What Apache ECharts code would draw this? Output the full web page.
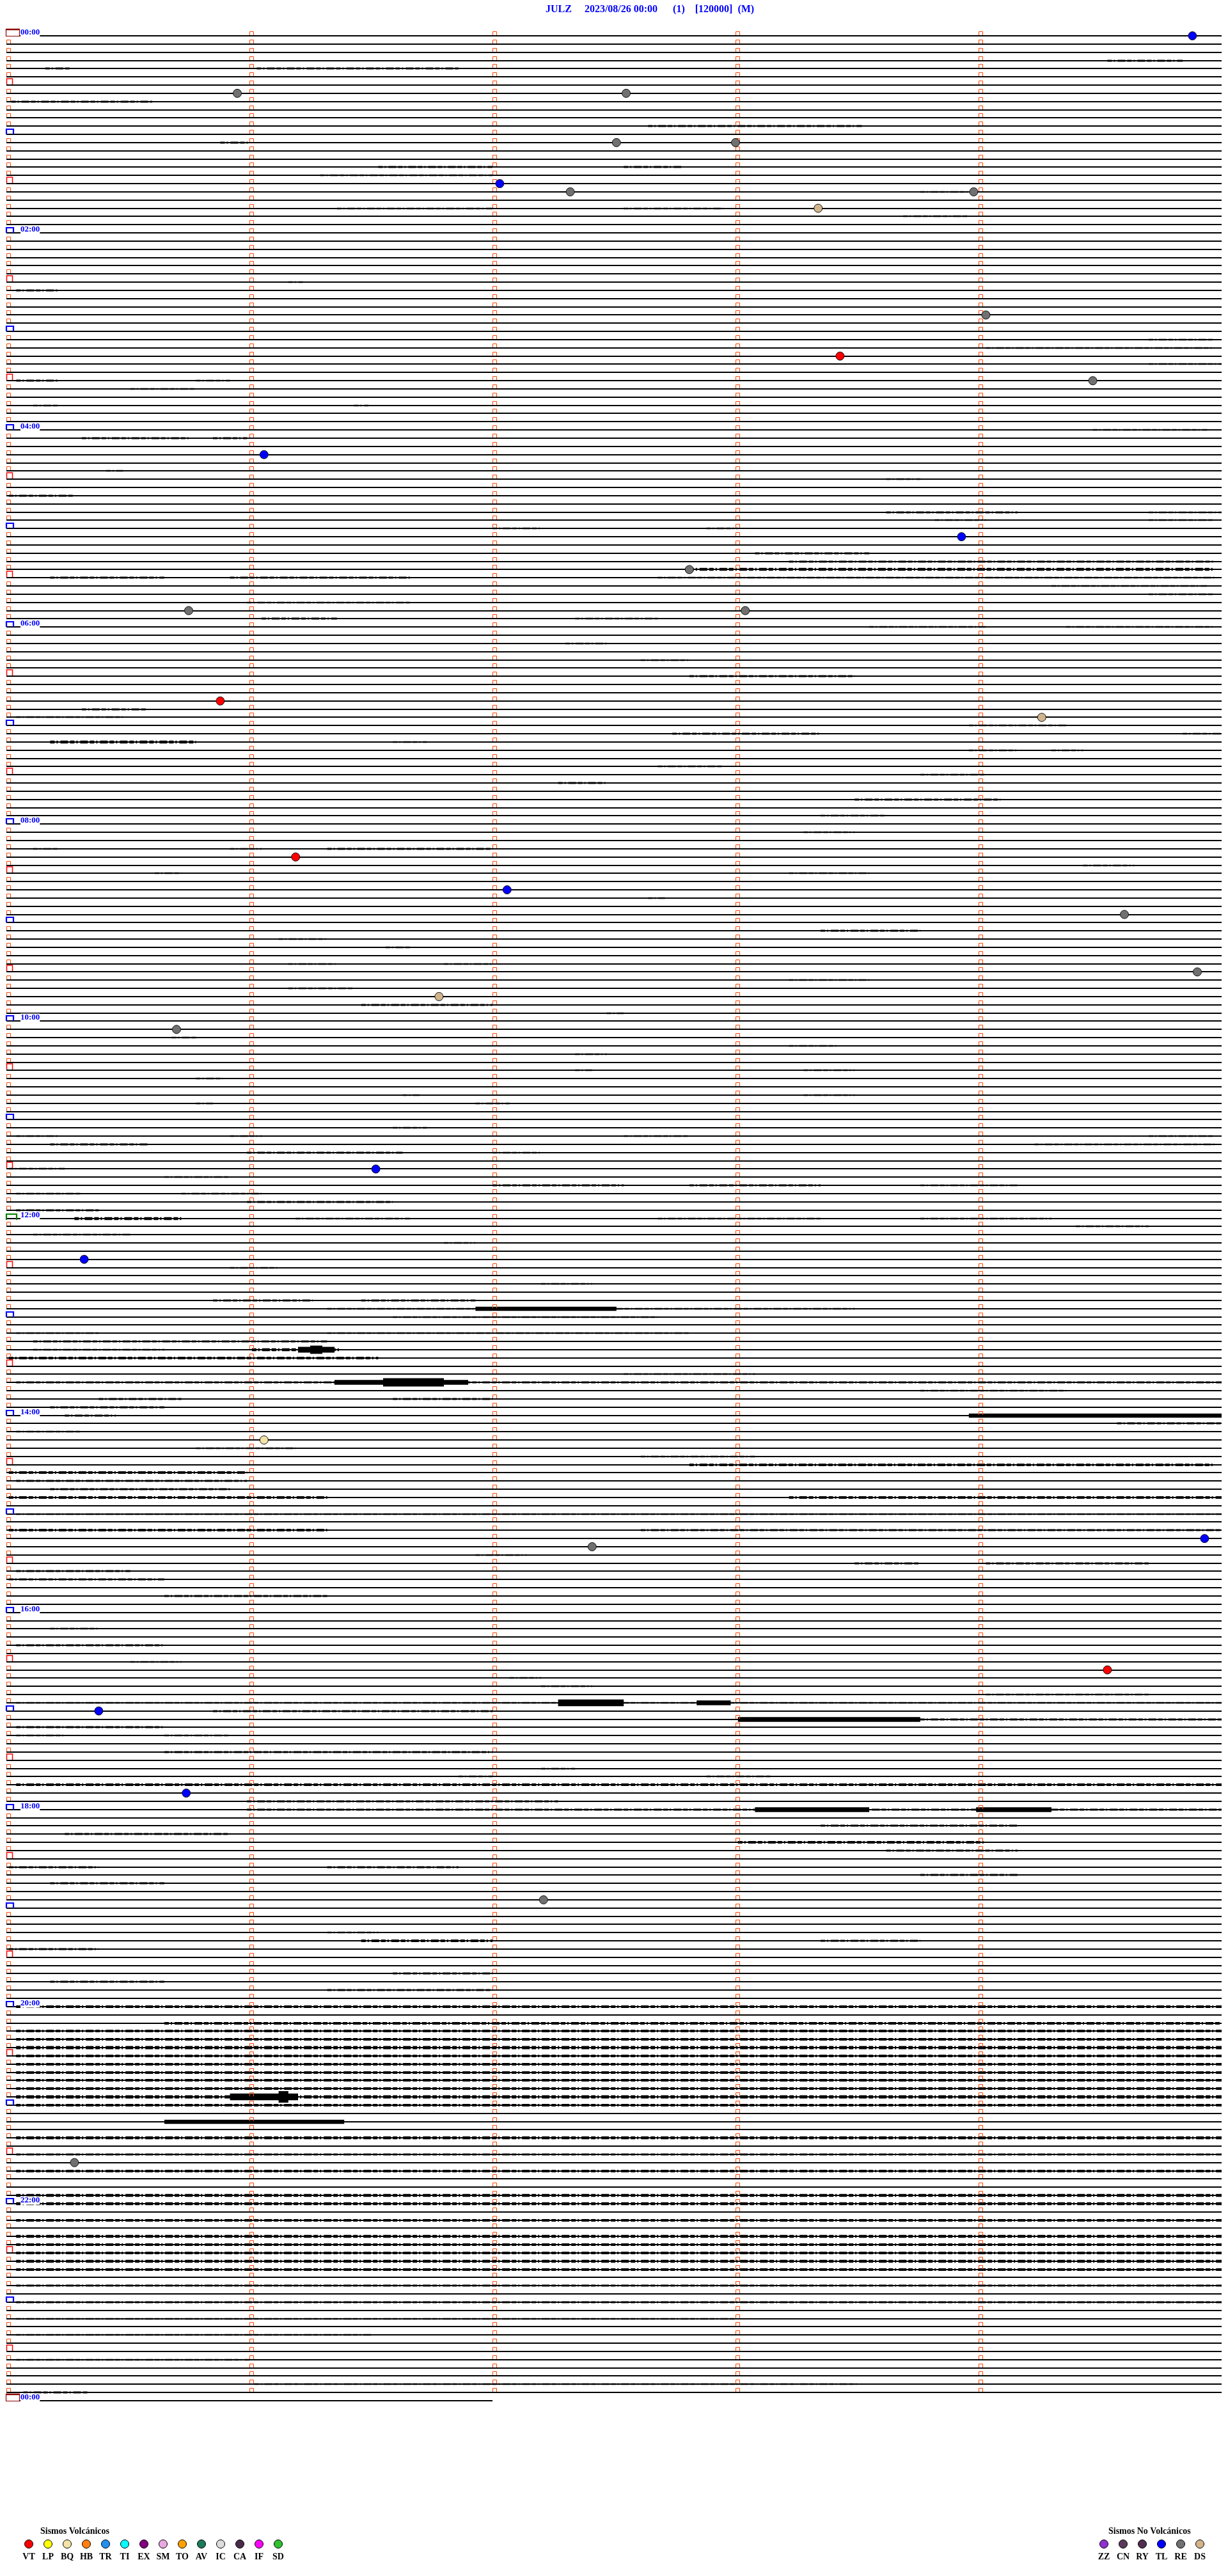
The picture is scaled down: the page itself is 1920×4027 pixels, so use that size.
<!DOCTYPE html>
<html><head><meta charset="utf-8">
<script src="https://cdn.jsdelivr.net/npm/echarts@6.0.0/dist/echarts.min.js"></script>
<style>html,body{margin:0;padding:0;background:#fff}#c{width:1920px;height:4027px}</style>
</head><body><div id="c"></div>
<script>
// ---------- DATA ----------
const titleText = 'JULZ     2023/08/26 00:00      (1)    [120000]  (M)';
const hours = 24;
const linesPerHour = 12;
const minutesPerLine = 5;
const minuteTicks = [0, 1, 2, 3, 4];
const hourLabels = ['00:00','02:00','04:00','06:00','08:00','10:00','12:00','14:00','16:00','18:00','20:00','22:00','00:00'];
const lastLineEnd = 2; // final (next-day 00:00) line only runs 2 minutes

// events: [minute within line, line index]
const eventsRE = [[0.95,7],[2.55,7],[2.51,13],[3.0,13],[2.32,19],[3.98,19],[4.03,34],[4.47,42],[2.81,65],[0.75,70],[3.04,70],[4.6,107],[4.9,114],[0.70,121],[2.41,184],[2.21,227],[0.28,259]];
const eventsTL = [[4.88,0],[2.03,18],[1.06,51],[3.93,61],[2.06,104],[1.52,138],[0.32,149],[4.93,183],[0.38,204],[0.74,214]];
const eventsVT = [[3.43,39],[0.88,81],[1.19,100],[4.53,199]];
const eventsDS = [[3.34,21],[4.26,83],[1.78,117]];
const eventsBQ = [[1.06,171]];

const volcanicTypes  = ['VT','LP','BQ','HB','TR','TI','EX','SM','TO','AV','IC','CA','IF','SD'];
const volcanicColors = ['#ff0000','#ffff00','#f3e3a6','#ff8010','#2090f0','#00ffff','#800080','#e8a8e0','#ffa000','#1a7a5a','#dcdcdc','#4a2a4a','#ff00ff','#30c030'];
const nonVolcanicTypes  = ['ZZ','CN','RY','TL','RE','DS'];
const nonVolcanicColors = ['#9030d0','#5a3a5a','#502e50','#0000ff','#707070','#d2b48c'];

// trace noise segments: [line, start minute, end minute, amplitude (fraction of line spacing)]
const noise = [
[3,4.53,4.84,.25],[4,0.16,0.26,.25],[4,1.03,1.86,.25],[8,0.02,0.6,.25],[11,2.64,3.52,.25],[13,0.88,1.0,.25],
[16,1.53,2.0,.25],[16,2.54,2.78,.25],[17,1.29,2.0,.2],[19,3.76,3.96,.2],[21,1.36,2.0,.2],[21,2.54,2.95,.2],
[22,3.69,3.96,.2],[30,1.16,1.22,.2],[31,0.04,0.21,.25],[37,4.70,4.97,.2],[38,4.03,4.97,.2],[40,4.70,5.0,.2],
[42,0.04,0.21,.25],[42,0.78,0.92,.2],[43,0.51,0.78,.2],[45,0.11,0.21,.2],[45,1.43,1.49,.2],[48,4.47,4.94,.2],
[49,0.31,0.75,.25],[49,0.85,0.99,.25],[53,0.41,0.48,.2],[54,3.62,3.76,.2],[56,0.01,0.28,.25],
[58,3.62,4.16,.25],[58,4.70,5.0,.2],[59,3.82,4.03,.2],[59,4.70,4.97,.2],[60,2.0,2.20,.2],[60,2.88,3.01,.2],
[63,3.08,3.55,.25],[64,3.22,4.97,.25],[65,2.81,4.97,.35],[66,0.18,0.65,.25],[66,0.92,1.66,.25],[66,2.68,4.97,.2],
[67,4.30,4.94,.2],[68,4.70,4.97,.2],[69,0.99,1.66,.2],[71,1.05,1.36,.25],[71,2.34,2.68,.2],
[72,3.55,4.03,.2],[72,4.36,4.97,.2],[74,2.30,2.47,.2],[76,2.61,2.81,.2],[78,2.81,3.49,.25],
[82,0.31,0.58,.25],[83,0.04,0.48,.2],[84,3.96,4.36,.2],[85,2.74,3.35,.25],[85,4.84,5.0,.2],
[86,0.18,0.78,.35],[86,1.59,1.73,.2],[87,3.96,4.16,.2],[87,4.30,4.43,.2],[89,2.68,2.95,.2],[90,3.76,4.03,.2],
[91,2.27,2.47,.25],[93,3.49,4.09,.25],[95,3.35,3.62,.2],[97,3.28,3.49,.2],
[99,0.11,0.21,.2],[99,0.92,1.05,.2],[99,1.32,2.0,.25],[101,4.43,4.64,.2],[102,0.61,0.72,.2],[102,3.22,3.55,.2],
[105,2.64,2.71,.2],[109,3.35,3.76,.25],[110,1.12,1.32,.2],[111,1.56,1.66,.2],[113,1.16,1.36,.2],[113,1.80,2.0,.2],
[115,3.22,3.55,.2],[116,1.16,1.43,.2],[118,1.46,2.0,.25],[119,2.47,2.54,.2],[122,0.68,0.78,.2],[123,3.22,3.42,.2],
[124,2.34,2.47,.2],[126,2.34,2.41,.2],[126,3.28,3.49,.2],[127,0.78,0.89,.2],[129,1.63,1.70,.2],[129,3.28,3.49,.2],
[130,0.78,0.85,.2],[130,1.93,2.07,.2],[133,1.59,1.73,.2],
[134,0.04,0.21,.2],[134,0.92,1.05,.2],[134,2.54,2.81,.2],[134,4.70,4.97,.2],[135,0.18,0.58,.25],[135,4.23,4.97,.2],
[136,0.99,1.63,.25],[136,2.0,2.20,.2],[138,0.01,0.24,.2],[139,0.65,0.92,.2],
[140,2.0,2.54,.25],[140,2.81,3.35,.25],[140,3.76,4.16,.2],[141,0.04,0.31,.2],[141,0.72,1.05,.2],
[142,0.99,1.59,.25],[143,0.04,0.38,.25],[144,0.28,0.72,.35],[144,1.19,1.66,.2],[144,2.68,3.35,.2],[144,3.76,4.30,.2],
[145,4.40,4.70,.2],[146,0.11,0.51,.2],[147,1.80,1.93,.2],[150,0.92,1.12,.2],[152,2.20,2.41,.2],
[154,0.85,1.26,.25],[154,1.46,1.93,.25],[155,1.32,3.49,.2],[155,1.93,2.51,.5],[156,1.59,2.68,.2],
[158,0.04,0.38,.2],[158,1.32,2.81,.2],[159,0.11,1.32,.25],
[160,0.11,0.65,.2],[160,1.01,1.37,.35],[160,1.2,1.35,.7],[160,1.25,1.3,1.0],[161,0.01,1.53,.3],[163,2.54,3.08,.2],
[164,0.04,5.0,.25],[164,1.35,1.9,.6],[164,1.55,1.8,1.0],[165,3.76,4.36,.2],[166,0.38,0.72,.25],[166,1.59,2.0,.25],
[167,0.18,0.65,.25],[168,0.24,0.45,.25],[168,3.96,5.0,.5],[169,4.57,5.0,.25],[170,0.04,0.31,.2],[172,0.78,1.19,.2],
[173,2.61,3.08,.2],[174,2.81,4.97,.3],[175,0.01,0.99,.3],[176,0.04,0.99,.25],[177,0.18,0.92,.25],
[178,0.01,1.32,.3],[178,3.22,5.0,.3],[180,0.04,5.0,.2],[182,0.01,1.32,.3],[182,2.61,5.0,.25],
[185,1.93,2.14,.2],[186,3.49,3.76,.25],[186,4.03,4.70,.25],[187,0.04,0.51,.25],[188,0.01,0.65,.25],[190,0.65,1.32,.25],
[194,0.18,0.38,.2],[196,0.04,0.65,.25],[198,0.51,0.72,.2],[200,2.07,2.20,.2],[201,2.20,2.41,.2],[202,4.03,4.70,.2],
[203,0.04,5.0,.2],[203,2.27,2.54,.8],[203,2.84,2.98,.6],[204,0.85,2.0,.25],[205,3.01,3.76,.6],[205,3.76,5.0,.25],
[206,0.04,0.65,.25],[207,0.04,0.24,.2],[207,0.65,0.92,.2],[209,0.65,2.0,.25],[211,2.20,2.34,.2],
[212,1.86,2.0,.2],[212,2.88,3.15,.2],[213,0.04,5.0,.3],[215,0.99,2.27,.25],
[216,0.99,5.0,.25],[216,3.08,3.55,.6],[216,3.99,4.3,.6],[218,3.35,4.16,.25],[219,0.24,0.92,.25],[220,3.01,4.03,.3],
[221,3.62,4.16,.25],[223,0.01,0.38,.25],[223,1.32,1.86,.25],[224,3.76,4.16,.25],[225,0.18,0.65,.25],
[231,1.32,1.53,.2],[232,1.46,2.0,.3],[232,3.35,3.76,.25],[233,0.01,0.38,.25],[236,1.59,2.0,.25],[237,0.18,0.65,.25],
[238,1.32,2.0,.25],[240,0.04,5.0,.3],[242,0.65,5.0,.3],[243,0.04,5.0,.3],[244,0.04,5.0,.3],[245,0.04,5.0,.4],
[246,0.04,5.0,.3],[247,0.04,5.0,.3],[248,0.04,5.0,.3],[249,0.04,5.0,.3],[250,0.04,5.0,.3],
[251,0.04,5.0,.4],[251,0.92,1.2,.8],[251,1.12,1.16,1.4],[252,0.04,5.0,.3],[254,0.65,1.39,.5],[256,0.04,5.0,.35],
[258,0.04,5.0,.25],[260,0.04,5.0,.3],[263,0.04,5.0,.35],[264,0.04,5.0,.35],[266,0.04,5.0,.3],[268,0.04,5.0,.35],
[269,0.04,5.0,.3],[270,0.04,5.0,.3],[271,0.04,5.0,.35],[272,0.04,5.0,.3],[274,0.04,5.0,.25],[276,0.04,5.0,.25],
[278,0.04,3.0,.2],[280,0.04,1.5,.2],[283,0.04,1.0,.2],[286,1.02,3.5,.2],[287,0.07,0.34,.25]
];

// ---------- CHART ----------
const totalLines = hours * linesPerHour; // 288
const rows = [];
for (let i = 0; i < totalLines; i++) rows.push([i, minutesPerLine]);
rows.push([totalLines, lastLineEnd]);

const chart = echarts.init(document.getElementById('c'), null, {renderer: 'canvas'});
const FONT = '"Liberation Serif", "DejaVu Serif", serif';

function baselineItem(params, api) {
  const p0 = api.coord([0, api.value(0)]);
  const p1 = api.coord([api.value(1), api.value(0)]);
  const y = Math.round(p0[1]);
  return {type: 'line', shape: {x1: p0[0], y1: y, x2: p1[0], y2: y}, style: {stroke: '#000', lineWidth: 2}, silent: true};
}

function markerItem(params, api) {
  const row = api.value(0);
  const children = [];
  const ticks = row === totalLines ? [] : minuteTicks;
  ticks.forEach(function (m) {
    const p = api.coord([m, row]);
    const x = Math.round(p[0]) + 0.5, y = Math.round(p[1]);
    if (m === 0 && row % linesPerHour === 0) return;
    if (m === 0 && row % (linesPerHour / 2) === 0) {
      children.push({type: 'polyline', shape: {points: [[x, y - 1], [x, y - 10], [x + 9, y - 10], [x + 9, y - 1]]}, style: {stroke: '#ff0000', fill: null, lineWidth: 1.5}});
      return;
    }
    children.push({type: 'polyline', shape: {points: [[x, y - 1], [x, y - 6.5], [x + 6, y - 6.5], [x + 6, y - 1]]}, style: {stroke: '#ff4500', fill: null, lineWidth: 1}});
  });
  if (row % linesPerHour === 0) {
    const p = api.coord([0, row]);
    const x = Math.round(p[0]), y = Math.round(p[1]);
    if (row % totalLines === 0) {
      children.push({type: 'rect', shape: {x: x - 0.5, y: y - 10.5, width: 21, height: 11}, style: {stroke: '#8b0000', fill: '#fff', lineWidth: 1.2}});
      children.push({type: 'line', shape: {x1: x - 1, y1: y - 10, x2: x + 21, y2: y - 10}, style: {stroke: '#8b0000', lineWidth: 2.5}});
    } else if (row === totalLines / 2) {
      children.push({type: 'polyline', shape: {points: [[x, y + 2], [x, y - 7], [x + 16, y - 7], [x + 16, y + 2]]}, style: {stroke: '#008000', fill: null, lineWidth: 2.2}});
    } else {
      children.push({type: 'polyline', shape: {points: [[x, y], [x, y - 8], [x + 11, y - 8], [x + 11, y]]}, style: {stroke: '#0000ff', fill: null, lineWidth: 2.2}});
    }
    if (row % (2 * linesPerHour) === 0) {
      children.push({type: 'text', x: x + 22, y: y - 5, style: {text: hourLabels[row / (2 * linesPerHour)], fill: '#0000ff', font: 'bold 13px ' + FONT, textAlign: 'left', textVerticalAlign: 'middle', backgroundColor: '#fff'}});
    }
  }
  return {type: 'group', children: children, silent: true};
}

function noiseItem(params, api) {
  const line = api.value(0);
  const amp = api.value(3);
  const p0 = api.coord([api.value(1), line]);
  const p1 = api.coord([api.value(2), line]);
  const h = Math.max(2.5, api.size([0, amp])[1]);
  const y = Math.round(p0[1]);
  if (amp < 0.45) {
    return {type: 'line', shape: {x1: p0[0], y1: y, x2: p1[0], y2: y}, style: {stroke: '#000', lineWidth: h, lineDash: [7, 3, 2, 4, 12, 3]}, silent: true};
  }
  return {type: 'rect', shape: {x: p0[0], y: y - h / 2, width: Math.max(1, p1[0] - p0[0]), height: h}, style: {fill: '#000'}, silent: true};
}

function evSeries(name, data, color) {
  return {name: name, type: 'scatter', data: data, symbol: 'circle', symbolSize: 13, z: 10,
    itemStyle: {color: color, borderColor: '#111', borderWidth: 1, opacity: 1}};
}

// title + legend graphics
const graphics = [];
graphics.push({type: 'text', x: 853, y: 15, style: {text: titleText, fill: '#0000ff', font: 'bold 16px ' + FONT, textVerticalAlign: 'middle'}});
graphics.push({type: 'text', x: 63, y: 3957, style: {text: 'Sismos Volcánicos', fill: '#000', font: 'bold 14px ' + FONT, textVerticalAlign: 'middle'}});
volcanicTypes.forEach(function (t, i) {
  const cx = 45 + 30 * i;
  graphics.push({type: 'circle', shape: {cx: cx, cy: 3977, r: 6.5}, style: {fill: volcanicColors[i], stroke: '#000', lineWidth: 1}});
  graphics.push({type: 'text', x: cx, y: 3997, style: {text: t, fill: '#000', font: 'bold 14px ' + FONT, textAlign: 'center', textVerticalAlign: 'middle'}});
});
graphics.push({type: 'text', x: 1733, y: 3957, style: {text: 'Sismos No Volcánicos', fill: '#000', font: 'bold 14px ' + FONT, textVerticalAlign: 'middle'}});
nonVolcanicTypes.forEach(function (t, i) {
  const cx = 1726 + 30 * i;
  graphics.push({type: 'circle', shape: {cx: cx, cy: 3977, r: 6.5}, style: {fill: nonVolcanicColors[i], stroke: '#000', lineWidth: 1}});
  graphics.push({type: 'text', x: cx, y: 3997, style: {text: t, fill: '#000', font: 'bold 14px ' + FONT, textAlign: 'center', textVerticalAlign: 'middle'}});
});

chart.setOption({
  animation: false,
  backgroundColor: '#fff',
  grid: {left: 10, right: 10, top: 56, height: 3697},
  xAxis: {type: 'value', min: 0, max: minutesPerLine, show: false},
  yAxis: {type: 'value', min: 0, max: totalLines, inverse: true, show: false},
  graphic: graphics,
  series: [
    {type: 'custom', renderItem: baselineItem, data: rows, z: 1, clip: false},
    {type: 'custom', renderItem: noiseItem, data: noise, z: 2, clip: false},
    {type: 'custom', renderItem: markerItem, data: rows, z: 3, clip: false},
    evSeries('RE', eventsRE, nonVolcanicColors[4]),
    evSeries('TL', eventsTL, nonVolcanicColors[3]),
    evSeries('VT', eventsVT, volcanicColors[0]),
    evSeries('DS', eventsDS, nonVolcanicColors[5]),
    evSeries('BQ', eventsBQ, volcanicColors[2])
  ]
});
</script></body></html>
